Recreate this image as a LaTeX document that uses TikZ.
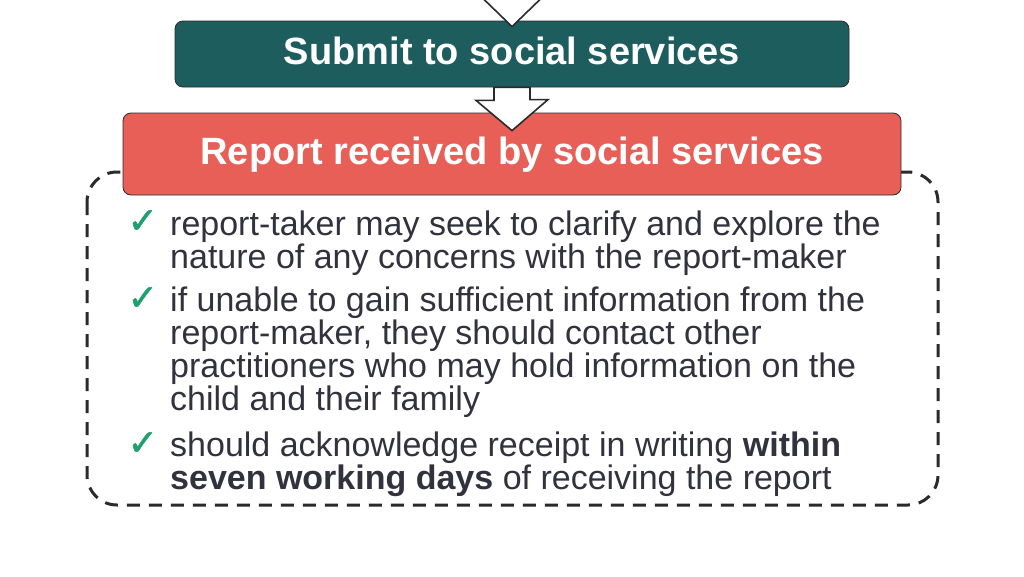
\documentclass[tikz,border=0pt]{standalone}
\usepackage{fontspec}
\setmainfont{Liberation Sans}
\newfontfamily\dejavu[FakeBold=1.6]{DejaVu Sans}
\usetikzlibrary{calc}
\definecolor{tealbox}{HTML}{1E5D5E}
\definecolor{redbox}{HTML}{E85F58}
\definecolor{bodytext}{HTML}{32323E}
\definecolor{checkgreen}{HTML}{1FA06C}
\definecolor{edgedark}{HTML}{2A2A2A}
\tikzset{
  titlebox/.style={draw=edgedark, line width=0.8pt, rounded corners=8pt, inner sep=0pt},
  titletext/.style={text=white, font=\fontsize{38}{44}\selectfont\bfseries, inner sep=0pt},
  barrow/.style={draw=edgedark, fill=white, line width=1.6pt, line join=miter},
  dashbox/.style={draw=edgedark, line width=3pt, dash pattern=on 13pt off 9pt, rounded corners=30pt},
  bullettext/.style={anchor=base west, align=left, text=bodytext, inner sep=0pt,
    font=\fontsize{34}{33}\selectfont},
  tick/.style={anchor=base east, text=checkgreen, inner sep=0pt, font=\dejavu\fontsize{36}{36}\selectfont}
}
\begin{document}
\begin{tikzpicture}[x=1pt,y=-1pt]
\useasboundingbox (0,0) rectangle (1024,576);
\clip (0,0) rectangle (1024,576);
% dashed frame
\coordinate (frameTL) at (87,172);
\coordinate (frameBR) at (938,505);
\draw[dashbox] (frameTL) rectangle (frameBR);
% boxes
\node[titlebox, fill=tealbox, minimum width=674pt, minimum height=66pt] (teal) at (512,54) {};
\node[titletext] (tealtext) at (512,51) {Submit to social services};
\node[titlebox, fill=redbox, minimum width=778pt, minimum height=82pt] (rep) at (512,154) {};
\node[titletext] (reptext) at (512,155) {Report received by social services};
% top arrow
\draw[barrow] ([yshift=-6pt]teal.north) -- ++(32,-31) -- ++(-14,0) -- ++(0,-30) -- ++(-36,0) -- ++(0,30) -- ++(-14,0) -- cycle;
% arrow between boxes
\draw[barrow] ([xshift=-18pt]teal.south) -- ++(0,13) -- ++(-18,0) -- ([yshift=-18pt]rep.north) -- ++(36,-31) -- ++(-18,0) -- ([xshift=18pt]teal.south) -- cycle;
% bullets (anchor = baseline of last line)
\node[tick] (t1) at (158,233) {✓};
\node[bullettext] (b1) at (170,268) {report-taker may seek to clarify and explore the\\nature of any concerns with the report-maker};
\node[tick] (t2) at (158,310) {✓};
\node[bullettext] (b2) at (170,410) {if unable to gain sufficient information from the\\report-maker, they should contact other\\practitioners who may hold information on the\\child and their family};
\node[tick] (t3) at (158,455) {✓};
\node[bullettext] (b3) at (170,489) {should acknowledge receipt in writing \textbf{within}\\\textbf{seven working days} of receiving the report};
\end{tikzpicture}
\end{document}
